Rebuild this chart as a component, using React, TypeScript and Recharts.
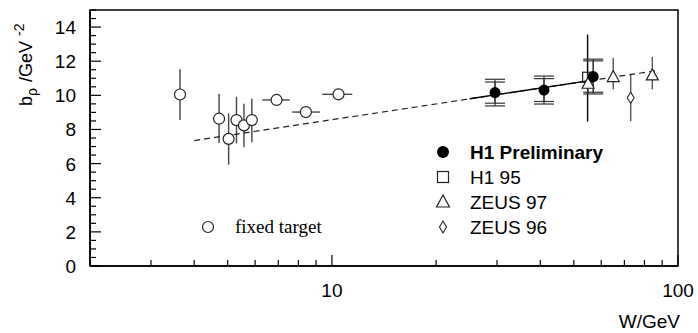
import { ScatterChart, Scatter, XAxis, YAxis, ErrorBar, ReferenceArea } from "recharts";

// W in GeV, b in GeV^-2, errors as [down, up]
const ftVertW = [3.64, 4.72, 5.03, 5.3, 5.57, 5.87];
const ftVertB = [10.05, 8.63, 7.45, 8.55, 8.24, 8.55];
const ftVertErr = [[1.5, 1.48], [1.43, 1.47], [1.51, 1.49], [1.37, 1.37], [1.28, 1.27], [1.3, 1.25]];

const ftHorW = [6.92, 8.41, 10.45];
const ftHorB = [9.73, 9.02, 10.06];
const ftHorErr = [[0.63, 0.64], [0.73, 0.82], [1.08, 1.0]];

const h1W = [29.6, 41.0, 56.9];
const h1B = [10.16, 10.31, 11.1];
const h1Stat = [0.62, 0.67, 0.92];
const h1Tot = [0.78, 0.82, 1.02];

const h195W = [54.8];
const h195B = [11.06];
const h195Err = [[2.6, 2.5]];

const zeus97W = [55.0, 65.0, 84.3];
const zeus97B = [10.65, 11.04, 11.14];
const zeus97Err = [[0.6, 0.6], [0.69, 1.16], [0.79, 1.11]];

const zeus96W = [73.0];
const zeus96B = [9.86];
const zeus96Err = [[1.37, 1.38]];

const fitDashW = [4.0, 88];
const fitDashB = [7.35, 11.47];
const fitSolidW = [25, 58];
const fitSolidB = [9.8, 10.92];

const xTicks = [2, 3, 4, 5, 6, 7, 8, 9, 10, 20, 30, 40, 50, 60, 70, 80, 90, 100];
const xLabels = [10, 100];
const yTicks = [0, 0.5, 1, 1.5, 2, 2.5, 3, 3.5, 4, 4.5, 5, 5.5, 6, 6.5, 7, 7.5, 8, 8.5, 9, 9.5, 10, 10.5, 11, 11.5, 12, 12.5, 13, 13.5, 14, 14.5, 15];
const yLabels = [0, 2, 4, 6, 8, 10, 12, 14];

const sans = "'Liberation Sans', Arial, Helvetica, sans-serif";
const serif = "'Liberation Serif', 'Times New Roman', serif";

const ftVert = ftVertW.map((w, i) => ({ w, b: ftVertB[i], e: ftVertErr[i] }));
const ftHor = ftHorW.map((w, i) => ({ w, b: ftHorB[i], e: ftHorErr[i] }));
const h1 = h1W.map((w, i) => ({ w, b: h1B[i], stat: h1Stat[i], tot: h1Tot[i] }));
const h195 = h195W.map((w, i) => ({ w, b: h195B[i], e: h195Err[i] }));
const zeus97 = zeus97W.map((w, i) => ({ w, b: zeus97B[i], e: zeus97Err[i] }));
const zeus96 = zeus96W.map((w, i) => ({ w, b: zeus96B[i], e: zeus96Err[i] }));
const fitDash = fitDashW.map((w, i) => ({ w, b: fitDashB[i] }));
const fitSolid = fitSolidW.map((w, i) => ({ w, b: fitSolidB[i] }));

function XTick(props: any) {
  const { x, y, payload } = props;
  const major = xLabels.includes(payload.value);
  return (
    <g>
      <line x1={x} y1={y} x2={x} y2={y - (major ? 11 : 6)} stroke="#000" strokeWidth={1.2} />
      {major && (
        <text x={x} y={y + 31} textAnchor="middle" fontSize={19} fontFamily={sans} fill="#000">
          {payload.value}
        </text>
      )}
    </g>
  );
}

function YTick(props: any) {
  const { x, y, payload } = props;
  const major = yLabels.includes(payload.value);
  return (
    <g>
      <line x1={x} y1={y} x2={x + (major ? 11 : 6)} y2={y} stroke="#000" strokeWidth={1.2} />
      {major && (
        <text x={x - 14} y={y + 7} textAnchor="end" fontSize={19} fontFamily={sans} fill="#000">
          {payload.value}
        </text>
      )}
    </g>
  );
}

const openCircle = (p: any) => <circle cx={p.cx} cy={p.cy} r={5.5} fill="#fff" stroke="#222" strokeWidth={1.2} />;
const fullCircle = (p: any) => <circle cx={p.cx} cy={p.cy} r={5.5} fill="#000" />;
const openSquare = (p: any) => (
  <rect x={p.cx - 5} y={p.cy - 5} width={10} height={10} fill="none" stroke="#222" strokeWidth={1.2} />
);
const openTriangle = (p: any) => (
  <path d={`M${p.cx},${p.cy - 7} L${p.cx + 6},${p.cy + 4} L${p.cx - 6},${p.cy + 4} Z`} fill="#fff" stroke="#222" strokeWidth={1.2} />
);
const openDiamond = (p: any) => (
  <path d={`M${p.cx},${p.cy - 5.5} L${p.cx + 3.5},${p.cy} L${p.cx},${p.cy + 5.5} L${p.cx - 3.5},${p.cy} Z`} fill="#fff" stroke="#222" strokeWidth={1.1} />
);
const noShape = () => <g />;

export default function App() {
  return (
    <div style={{ position: "absolute", left: 0, top: 0, width: 698, height: 333, background: "#fff" }}>
      <ScatterChart width={698} height={333} margin={{ top: 10, right: 20, left: 0, bottom: 0 }}>
        <XAxis
          dataKey="w"
          type="number"
          scale="log"
          domain={[2, 100]}
          allowDataOverflow
          ticks={xTicks}
          interval={0}
          tick={<XTick />}
          tickLine={false}
          tickSize={0}
          tickMargin={0}
          axisLine={{ stroke: "#000", strokeWidth: 1.5 }}
          height={67}
        />
        <YAxis
          dataKey="b"
          type="number"
          domain={[0, 15]}
          allowDataOverflow
          ticks={yTicks}
          interval={0}
          tick={<YTick />}
          tickLine={false}
          tickSize={0}
          tickMargin={0}
          axisLine={{ stroke: "#000", strokeWidth: 1.5 }}
          width={90}
        />
        <ReferenceArea x1={2} x2={100} y1={0} y2={15} fill="none" stroke="#000" strokeWidth={1.5} />
        <Scatter data={fitDash} line={{ stroke: "#222", strokeWidth: 1.2, strokeDasharray: "6 4" }} shape={noShape} isAnimationActive={false} />
        <Scatter data={fitSolid} line={{ stroke: "#000", strokeWidth: 1.4 }} shape={noShape} isAnimationActive={false} />
        <Scatter data={ftVert} shape={openCircle} isAnimationActive={false}>
          <ErrorBar dataKey="e" direction="y" width={0} stroke="#444" strokeWidth={1.4} />
        </Scatter>
        <Scatter data={ftHor} shape={openCircle} isAnimationActive={false}>
          <ErrorBar dataKey="e" direction="x" width={0} stroke="#444" strokeWidth={1.4} />
        </Scatter>
        <Scatter data={h195} shape={openSquare} isAnimationActive={false}>
          <ErrorBar dataKey="e" direction="y" width={0} stroke="#000" strokeWidth={1.4} />
        </Scatter>
        <Scatter data={zeus97} shape={openTriangle} isAnimationActive={false}>
          <ErrorBar dataKey="e" direction="y" width={0} stroke="#555" strokeWidth={1.4} />
        </Scatter>
        <Scatter data={zeus96} shape={openDiamond} isAnimationActive={false}>
          <ErrorBar dataKey="e" direction="y" width={0} stroke="#555" strokeWidth={1.4} />
        </Scatter>
        <Scatter data={h1} shape={fullCircle} isAnimationActive={false}>
          <ErrorBar dataKey="tot" direction="y" width={10} stroke="#333" strokeWidth={1.2} />
          <ErrorBar dataKey="stat" direction="y" width={10} stroke="#333" strokeWidth={1.2} />
        </Scatter>
      </ScatterChart>
      <svg width={698} height={333} style={{ position: "absolute", left: 0, top: 0, pointerEvents: "none" }}>
        <text transform="translate(32,106) rotate(-90)" fontSize={18} fontFamily={sans} fill="#000">
          b
          <tspan dy={5} fontSize={14}>ρ</tspan>
          <tspan dy={-5} dx={6}>/GeV</tspan>
          <tspan dy={-8} dx={5} fontSize={14}>-2</tspan>
        </text>
        <text x={680} y={328} textAnchor="end" fontSize={19} fontFamily={sans} fill="#000">W/GeV</text>

        <circle cx={443} cy={152} r={6} fill="#000" />
        <text x={470} y={159} fontSize={19} fontWeight="bold" fontFamily={sans} fill="#000">H1 Preliminary</text>
        <rect x={437.5} y={171.5} width={11} height={11} fill="none" stroke="#222" strokeWidth={1.2} />
        <text x={470} y={184} fontSize={19} fontFamily={sans} fill="#000">H1 95</text>
        <path d="M443,195 L449.5,207 L436.5,207 Z" fill="none" stroke="#222" strokeWidth={1.2} />
        <text x={470} y={209} fontSize={19} fontFamily={sans} fill="#000">ZEUS 97</text>
        <path d="M443,221 L446.5,227 L443,233 L439.5,227 Z" fill="none" stroke="#222" strokeWidth={1.1} />
        <text x={470} y={234} fontSize={19} fontFamily={sans} fill="#000">ZEUS 96</text>

        <circle cx={208} cy={227} r={5.5} fill="none" stroke="#222" strokeWidth={1.2} />
        <text x={235} y={233} fontSize={19} fontFamily={serif} fill="#000">fixed target</text>
      </svg>
    </div>
  );
}
